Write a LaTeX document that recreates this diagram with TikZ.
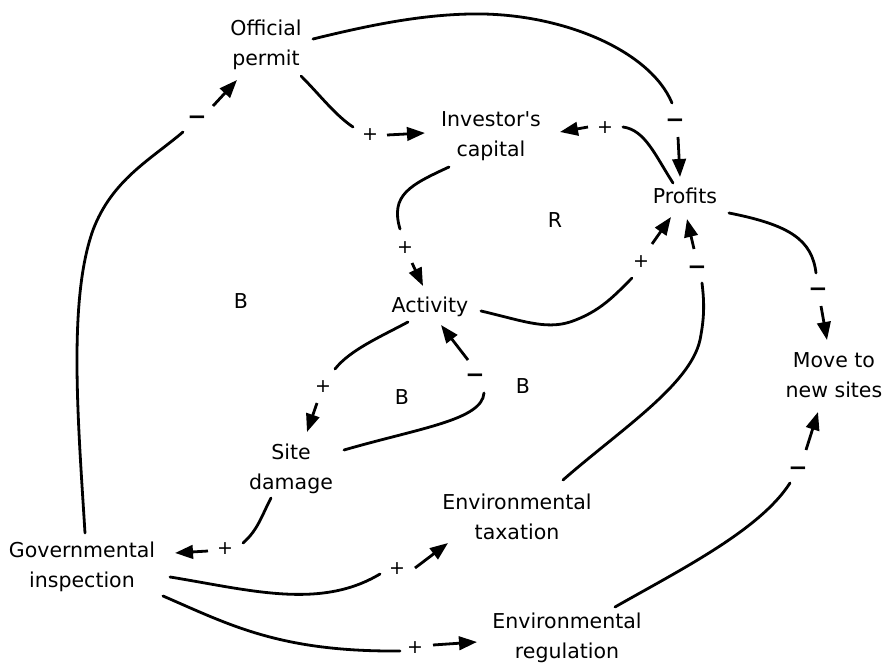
\documentclass[tikz,border=0pt]{standalone}
\usepackage{fontspec}
\setmainfont{DejaVu Sans}
\usetikzlibrary{arrows.meta}
\newcommand{\twol}[2]{\begin{tabular}[t]{@{}c@{}}#1\\#2\end{tabular}}
\newcommand{\mysignneg}{{\fontsize{23}{26}\selectfont\textbf{−}}}
\begin{document}
\begin{tikzpicture}[x=1pt,y=-1pt,
  lab/.style={anchor=base,inner sep=0pt,font=\fontsize{20.5}{30}\selectfont},
  sgn/.style={inner sep=0pt,text height=13.4pt,text depth=0pt,font=\fontsize{19}{22}\selectfont},
  ngn/.style={inner sep=0pt,text height=16pt,text depth=0pt},
  lnk/.style={line width=2.8pt,line cap=round},
  arr/.style={line width=2.8pt,-{Triangle[length=18pt,width=13.5pt]}}]
\useasboundingbox (0,0) rectangle (887,666);

% variables
\node[lab] (permit) at (266,36) {\twol{Official}{permit}};
\node[lab] (capital) at (491,127) {\twol{Investor\textquotesingle s}{capital}};
\node[lab] (profits) at (685,204) {Profits};
\node[lab] (activity) at (430,312) {Activity};
\node[lab] (move) at (834,367) {\twol{Move to}{new sites}};
\node[lab] (site) at (291,459) {\twol{Site}{damage}};
\node[lab] (tax) at (517,509) {\twol{Environmental}{taxation}};
\node[lab] (gov) at (82,557) {\twol{Governmental}{inspection}};
\node[lab] (reg) at (567,628) {\twol{Environmental}{regulation}};

% loop markers
\node[lab] (loopR) at (555,228) {R};
\node[lab] (loopB1) at (241,308) {B};
\node[lab] (loopB2) at (402,404) {B};
\node[lab] (loopB3) at (523,393) {B};

% polarity signs
\node[ngn] (s1) at (197,117) {\mysignneg};
\node[sgn] (s2) at (370,134) {+};
\node[ngn] (s3) at (675,120) {\mysignneg};
\node[sgn] (s4) at (605,127) {+};
\node[sgn] (s5) at (405,247) {+};
\node[sgn] (s6) at (641,261) {+};
\node[ngn] (s7) at (697,266) {\mysignneg};
\node[ngn] (s8) at (818,288) {\mysignneg};
\node[ngn] (s9) at (798,467) {\mysignneg};
\node[sgn] (s10) at (323,386) {+};
\node[ngn] (s11) at (475,374) {\mysignneg};
\node[sgn] (s12) at (225,548) {+};
\node[sgn] (s13) at (397,568) {+};
\node[sgn] (s14) at (415,647) {+};

% curve ends and arrow ends
\coordinate (c1a) at (85,533);   \coordinate (c1b) at (183,132);
\coordinate (a1a) at (213,106);  \coordinate (a1b) at (237,80);
\coordinate (c2a) at (301,76);   \coordinate (c2b) at (353,127);
\coordinate (a2a) at (387,135);  \coordinate (a2b) at (425,133);
\coordinate (c3a) at (313,39);   \coordinate (c3b) at (672,103);
\coordinate (a3a) at (678,137);  \coordinate (a3b) at (680,177);
\coordinate (c4a) at (673,183);  \coordinate (c4b) at (623,127);
\coordinate (a4a) at (588,127);  \coordinate (a4b) at (560,132);
\coordinate (c5a) at (449,167);  \coordinate (c5b) at (400,229);
\coordinate (a5a) at (412,263);  \coordinate (a5b) at (423,286);
\coordinate (c6a) at (481,311);  \coordinate (c6b) at (632,278);
\coordinate (a6a) at (652,244);  \coordinate (a6b) at (671,217);
\coordinate (c7a) at (563,480);  \coordinate (c7b) at (702,283);
\coordinate (a7a) at (694,249);  \coordinate (a7b) at (687,219);
\coordinate (c8a) at (729,213);  \coordinate (c8b) at (816,273);
\coordinate (a8a) at (821,306);  \coordinate (a8b) at (827,340);
\coordinate (c9a) at (615,607);  \coordinate (c9b) at (790,483);
\coordinate (a9a) at (806,450);  \coordinate (a9b) at (818,412);
\coordinate (c10a) at (408,322); \coordinate (c10b) at (335,369);
\coordinate (a10a) at (317,403); \coordinate (a10b) at (307,432);
\coordinate (c11a) at (344,450); \coordinate (c11b) at (484,393);
\coordinate (a11a) at (468,360); \coordinate (a11b) at (441,325);
\coordinate (c12a) at (271,498); \coordinate (c12b) at (243,543);
\coordinate (a12a) at (208,551); \coordinate (a12b) at (175,553);
\coordinate (c13a) at (170,577); \coordinate (c13b) at (380,574);
\coordinate (a13a) at (415,568); \coordinate (a13b) at (448,543);
\coordinate (c14a) at (163,596); \coordinate (c14b) at (400,651);
\coordinate (a14a) at (433,645); \coordinate (a14b) at (477,642);

% curves
\draw[lnk] (c1a) .. controls (78,420) and (68,300) .. (93,230)
                 .. controls (112,180) and (150,160) .. (c1b);
\draw[lnk] (c2a) .. controls (320,95) and (335,115) .. (c2b);
\draw[lnk] (c3a) .. controls (370,25) and (420,15) .. (470,14)
                 .. controls (560,12) and (650,50) .. (c3b);
\draw[lnk] (c4a) .. controls (655,155) and (645,130) .. (c4b);
\draw[lnk] (c5a) .. controls (410,185) and (390,195) .. (c5b);
\draw[lnk] (c6a) .. controls (520,320) and (545,330) .. (570,322)
                 .. controls (600,312) and (615,295) .. (c6b);
\draw[lnk] (c7a) .. controls (620,430) and (690,385) .. (700,340)
                 .. controls (705,315) and (704,300) .. (c7b);
\draw[lnk] (c8a) .. controls (790,225) and (812,240) .. (c8b);
\draw[lnk] (c9a) .. controls (680,570) and (760,530) .. (c9b);
\draw[lnk] (c10a) .. controls (380,337) and (350,350) .. (c10b);
\draw[lnk] (c11a) .. controls (420,428) and (482,420) .. (c11b);
\draw[lnk] (c12a) .. controls (262,515) and (258,530) .. (c12b);
\draw[lnk] (c13a) .. controls (250,590) and (320,610) .. (c13b);
\draw[lnk] (c14a) .. controls (230,625) and (280,652) .. (c14b);

% arrows
\foreach \i in {1,...,14} {\draw[arr] (a\i a) -- (a\i b);}
\end{tikzpicture}
\end{document}
